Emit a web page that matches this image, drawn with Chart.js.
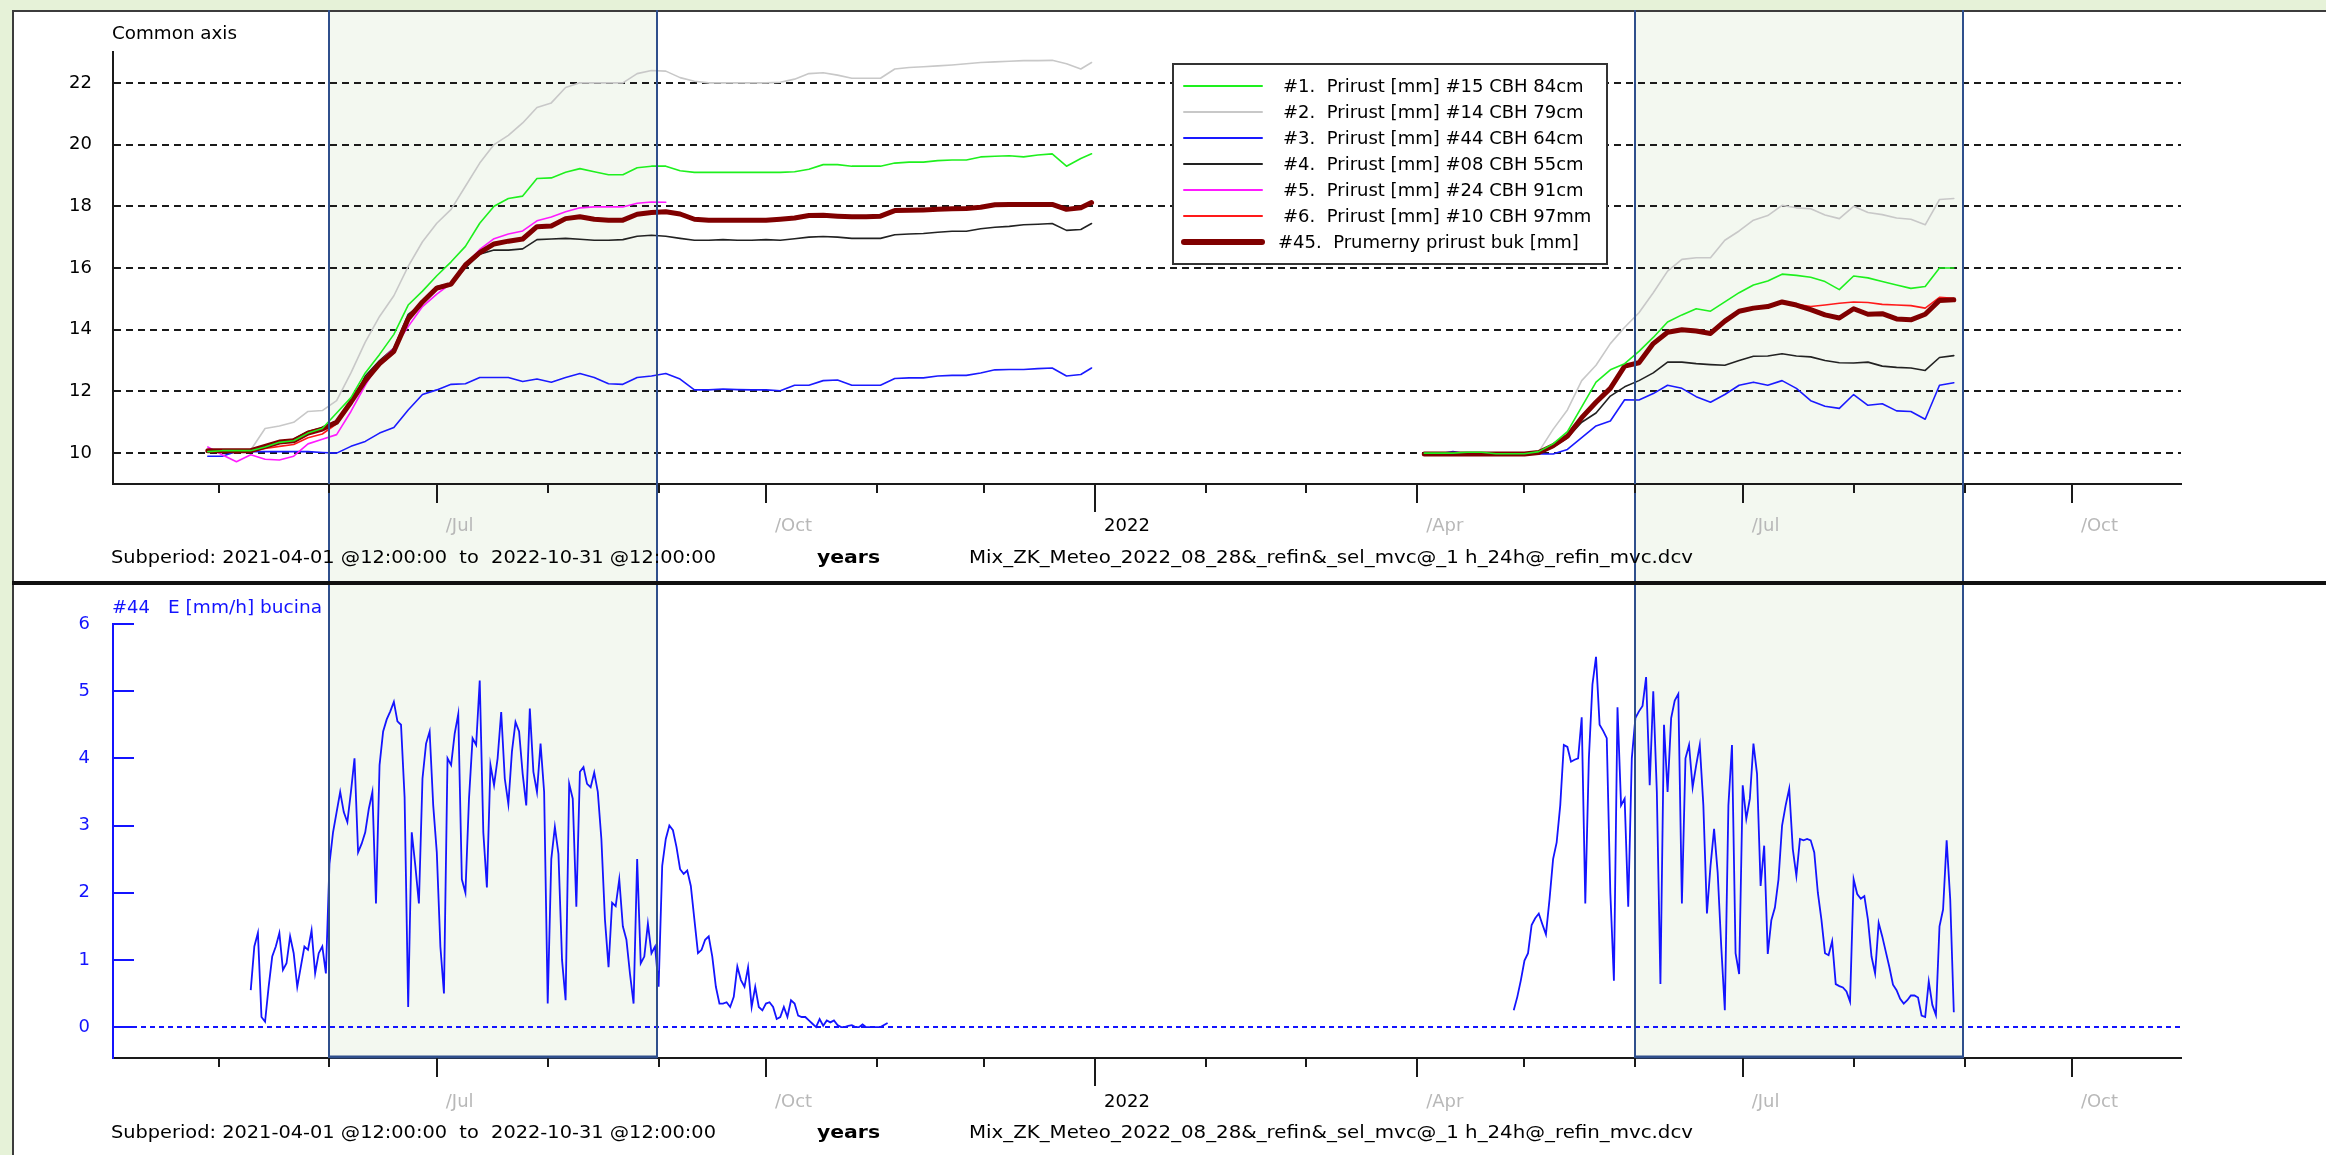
<!DOCTYPE html>
<html>
<head>
<meta charset="utf-8">
<title>Prirust buk / E bucina</title>
<script src="https://cdn.jsdelivr.net/npm/chart.js@4/dist/chart.umd.min.js"></script>
<style>
  html, body { margin: 0; padding: 0; width: 2326px; height: 1155px; overflow: hidden; background: #e6f2d8; }
  #panel { position: absolute; left: 12px; top: 10px; right: 0; bottom: 0; background: #fff;
           border-left: 2px solid #3c3c3c; border-top: 2px solid #3c3c3c; }
  canvas { position: absolute; left: 0; }
  #growth { top: 0; }
  #evap { top: 583px; }
  #divider { position: absolute; left: 12px; right: 0; top: 581px; height: 4px; background: #111; z-index: 5; }
</style>
</head>
<body>
<div id="panel"></div>
<canvas id="growth" width="2326" height="583"></canvas>
<canvas id="evap" width="2326" height="572"></canvas>
<div id="divider"></div>
<script>
// ---- time axis: days since 2021-04-01 00:00 ----
const axisStartDay = 0.5;   // 2021-04-01 12:00
const axisEndDay = 578.5;   // 2022-10-31 12:00
const monthTickDays = [30, 61, 91, 122, 153, 183, 214, 244, 275, 306, 334, 365, 395, 426, 456, 487, 518, 548];
const monthTickLabels = ['', '', '/Jul', '', '', '/Oct', '', '', '2022', '', '', '/Apr', '', '', '/Jul', '', '', '/Oct'];
const summerBands = [[61, 152.5], [426, 517.5]];

// ---- stem increment series (mm), sampled every 4 days ----
const growthDays2021 = [27, 31, 35, 39, 43, 47, 51, 55, 59, 63, 67, 71, 75, 79, 83, 87, 91, 95, 99, 103,
  107, 111, 115, 119, 123, 127, 131, 135, 139, 143, 147, 151, 155, 159, 163, 167, 171, 175, 179, 183,
  187, 191, 195, 199, 203, 207, 211, 215, 219, 223, 227, 231, 235, 239, 243, 247, 251, 255, 259, 263,
  267, 271, 274];
const growthDays2022 = [367, 371, 375, 379, 383, 387, 391, 395, 399, 403, 407, 411, 415, 419, 423, 427,
  431, 435, 439, 443, 447, 451, 455, 459, 463, 467, 471, 475, 479, 483, 487, 491, 495, 499, 503, 507,
  511, 515];

const tree15_2021 = [10.05, 10.08, 10.08, 10.08, 10.2, 10.35, 10.4, 10.65, 10.8, 11.3,
  11.8, 12.6, 13.2, 13.85, 14.8, 15.25, 15.75, 16.2, 16.7, 17.45,
  18.0, 18.25, 18.33, 18.9, 18.92, 19.1, 19.22, 19.12, 19.02, 19.02,
  19.25, 19.3, 19.3, 19.15, 19.1, 19.1, 19.1, 19.1, 19.1, 19.1,
  19.1, 19.12, 19.2, 19.35, 19.35, 19.3, 19.3, 19.3, 19.4, 19.43,
  19.43, 19.48, 19.5, 19.5, 19.6, 19.62, 19.64, 19.6, 19.66, 19.7,
  19.3, 19.55, 19.7];
const tree15_2022 = [10.0, 10.0, 10.0, 10.03, 10.03, 9.98, 9.98, 9.98, 10.05, 10.3,
  10.7, 11.5, 12.3, 12.7, 12.9, 13.3, 13.75, 14.25, 14.48, 14.68,
  14.6, 14.9, 15.2, 15.45, 15.58, 15.8, 15.76, 15.7, 15.56, 15.3,
  15.74, 15.68, 15.56, 15.45, 15.34, 15.4, 16.0, 16.0];

const tree14_2021 = [10.05, 10.05, 10.05, 10.1, 10.8, 10.88, 11.0, 11.35, 11.38, 11.7,
  12.6, 13.6, 14.43, 15.1, 16.05, 16.85, 17.45, 17.9, 18.65, 19.4,
  20.0, 20.3, 20.7, 21.2, 21.35, 21.85, 22.0, 22.0, 22.0, 22.0,
  22.3, 22.4, 22.38, 22.17, 22.05, 22.0, 22.0, 22.0, 22.0, 22.0,
  22.02, 22.12, 22.3, 22.33, 22.25, 22.15, 22.15, 22.15, 22.45, 22.5,
  22.52, 22.55, 22.58, 22.62, 22.66, 22.68, 22.7, 22.72, 22.72, 22.73,
  22.62, 22.45, 22.66];
const tree14_2022 = [9.97, 9.95, 9.97, 9.97, 9.97, 9.97, 9.97, 9.99, 10.05, 10.77,
  11.4, 12.35, 12.85, 13.55, 14.08, 14.55, 15.2, 15.9, 16.28, 16.33,
  16.33, 16.9, 17.2, 17.55, 17.7, 18.03, 17.95, 17.92, 17.72, 17.6,
  18.0, 17.8, 17.73, 17.62, 17.58, 17.4, 18.22, 18.25];

const tree44_2021 = [9.9, 9.9, 10.05, 10.05, 10.05, 10.05, 10.05, 10.05, 10.02, 10.0,
  10.22, 10.38, 10.65, 10.83, 11.4, 11.9, 12.05, 12.23, 12.25, 12.45,
  12.45, 12.45, 12.32, 12.4, 12.3, 12.45, 12.58, 12.45, 12.25, 12.23,
  12.45, 12.5, 12.58, 12.4, 12.05, 12.05, 12.08, 12.06, 12.05, 12.05,
  12.02, 12.2, 12.2, 12.35, 12.37, 12.2, 12.2, 12.2, 12.42, 12.44,
  12.44, 12.5, 12.52, 12.52, 12.6, 12.7, 12.71, 12.71, 12.74, 12.76,
  12.5, 12.55, 12.76];
const tree44_2022 = [9.97, 9.97, 10.05, 9.97, 9.97, 9.97, 9.97, 9.97, 9.97, 9.97,
  10.12, 10.5, 10.88, 11.04, 11.73, 11.72, 11.93, 12.2, 12.1, 11.83,
  11.65, 11.9, 12.2, 12.3, 12.2, 12.35, 12.1, 11.7, 11.52, 11.45,
  11.9, 11.55, 11.6, 11.37, 11.35, 11.1, 12.2, 12.28];

const tree08_2021 = [10.05, 10.05, 10.08, 10.08, 10.2, 10.35, 10.45, 10.7, 10.82, 11.05,
  11.6, 12.5, 13.0, 13.4, 14.5, 14.85, 15.4, 15.5, 16.0, 16.45,
  16.58, 16.58, 16.62, 16.92, 16.94, 16.96, 16.93, 16.9, 16.9, 16.92,
  17.03, 17.06, 17.03, 16.96, 16.9, 16.9, 16.92, 16.9, 16.9, 16.92,
  16.9, 16.95, 17.0, 17.02, 17.0, 16.96, 16.96, 16.96, 17.08, 17.1,
  17.12, 17.16, 17.19, 17.19, 17.27, 17.32, 17.35, 17.4, 17.42, 17.44,
  17.22, 17.25, 17.44];
const tree08_2022 = [9.97, 9.97, 9.97, 9.97, 9.97, 9.97, 9.97, 9.97, 10.0, 10.2,
  10.5, 11.0, 11.3, 11.85, 12.15, 12.35, 12.6, 12.95, 12.95, 12.9,
  12.87, 12.85, 13.0, 13.14, 13.15, 13.22, 13.15, 13.12, 13.0, 12.93,
  12.92, 12.95, 12.82, 12.78, 12.76, 12.68, 13.1, 13.16];

const tree24_2021 = [10.2, 9.95, 9.72, 9.95, 9.8, 9.78, 9.9, 10.3, 10.45, 10.6,
  11.35, 12.2, 12.95, 13.4, 14.1, 14.75, 15.15, 15.5, 16.1, 16.6,
  16.95, 17.1, 17.2, 17.53, 17.65, 17.82, 17.95, 17.98, 17.98, 17.98,
  18.1, 18.14, 18.13];

const tree10_2021 = [10.05, 10.05, 10.02, 10.05, 10.15, 10.22, 10.28, 10.5, 10.62, 10.95,
  11.6, 12.3, 12.85, 13.25, 14.3, 14.85, 15.3, 15.45, 16.05, 16.45,
  16.75, 16.85, 16.92, 17.32, 17.36, 17.58, 17.64, 17.56, 17.55, 17.55,
  17.72, 17.78, 17.8, 17.72, 17.58, 17.56, 17.58, 17.58, 17.58, 17.57,
  17.58, 17.62, 17.7, 17.7, 17.68, 17.66, 17.66, 17.68, 17.85, 17.86,
  17.87, 17.88, 17.9, 17.92, 17.95, 18.02, 18.04, 18.04, 18.04, 18.04,
  17.9, 17.95, 18.1];
const tree10_2022 = [9.97, 9.97, 9.97, 9.97, 9.97, 9.97, 9.97, 9.97, 10.02, 10.22,
  10.5, 11.1, 11.65, 12.05, 12.8, 12.95, 13.55, 13.95, 14.02, 14.0,
  13.92, 14.3, 14.62, 14.72, 14.78, 14.92, 14.82, 14.75, 14.8, 14.86,
  14.9, 14.88, 14.82, 14.8, 14.78, 14.7, 15.05, 15.02];

const beechMean_2021 = [10.08, 10.08, 10.08, 10.08, 10.22, 10.36, 10.4, 10.65, 10.78, 11.0,
  11.65, 12.35, 12.9, 13.3, 14.35, 14.9, 15.35, 15.48, 16.1, 16.5,
  16.78, 16.87, 16.94, 17.34, 17.36, 17.6, 17.66, 17.58, 17.55, 17.55,
  17.74, 17.8, 17.82, 17.75, 17.58, 17.55, 17.55, 17.55, 17.55, 17.55,
  17.58, 17.62, 17.7, 17.71, 17.68, 17.66, 17.66, 17.68, 17.86, 17.87,
  17.88, 17.9, 17.92, 17.93, 17.97, 18.05, 18.06, 18.06, 18.06, 18.06,
  17.9, 17.95, 18.12];
const beechMean_2022 = [9.97, 9.97, 9.97, 9.97, 9.97, 9.97, 9.97, 9.97, 10.02, 10.24,
  10.55, 11.15, 11.65, 12.1, 12.82, 12.93, 13.55, 13.92, 14.0, 13.96,
  13.88, 14.28, 14.6, 14.7, 14.75, 14.9, 14.8, 14.65, 14.48, 14.38,
  14.68, 14.5, 14.52, 14.35, 14.32, 14.5, 14.95, 14.97];

const seriesLabels = [
  '#1.  Prirust [mm] #15 CBH 84cm',
  '#2.  Prirust [mm] #14 CBH 79cm',
  '#3.  Prirust [mm] #44 CBH 64cm',
  '#4.  Prirust [mm] #08 CBH 55cm',
  '#5.  Prirust [mm] #24 CBH 91cm',
  '#6.  Prirust [mm] #10 CBH 97mm',
  '#45.  Prumerny prirust buk [mm]'
];
const commonAxisTicks = [10, 12, 14, 16, 18, 20, 22];

// ---- E [mm/h] bucina, daily values ----
const etFirstDay2021 = 39;
const etValues2021 = [0.55, 1.2, 1.4, 0.15, 0.08, 0.6, 1.05, 1.2, 1.4, 0.85,
  0.95, 1.35, 1.1, 0.6, 0.9, 1.2, 1.15, 1.44, 0.8, 1.1,
  1.2, 0.8, 2.43, 2.9, 3.2, 3.5, 3.2, 3.05, 3.5, 4.0,
  2.6, 2.73, 2.9, 3.25, 3.5, 1.84, 3.9, 4.4, 4.58, 4.7,
  4.84, 4.55, 4.5, 3.42, 0.3, 2.9, 2.4, 1.84, 3.7, 4.22,
  4.4, 3.3, 2.6, 1.2, 0.5, 4.0, 3.9, 4.37, 4.66, 2.2,
  2.0, 3.4, 4.3, 4.2, 5.16, 2.9, 2.08, 3.9, 3.6, 4.0,
  4.69, 3.7, 3.32, 4.1, 4.54, 4.4, 3.77, 3.3, 4.74, 3.8,
  3.5, 4.22, 3.5, 0.35, 2.5, 2.98, 2.58, 1.0, 0.4, 3.62,
  3.4, 1.79, 3.8, 3.87, 3.62, 3.57, 3.79, 3.5, 2.8, 1.6,
  0.89, 1.85, 1.8, 2.2, 1.5, 1.3, 0.79, 0.35, 2.5, 0.95,
  1.05, 1.54, 1.1, 1.2, 0.6, 2.4, 2.8, 3.0, 2.93, 2.68,
  2.35, 2.28, 2.33, 2.1, 1.6, 1.1, 1.15, 1.3, 1.35, 1.05,
  0.6, 0.35, 0.35, 0.37, 0.3, 0.45, 0.9, 0.7, 0.6, 0.89,
  0.3, 0.6, 0.3, 0.25, 0.35, 0.37, 0.3, 0.12, 0.15, 0.3,
  0.15, 0.4, 0.35, 0.17, 0.15, 0.15, 0.1, 0.05, 0.0, 0.12,
  0.02, 0.1, 0.07, 0.1, 0.03, 0.0, 0.0, 0.02, 0.03, 0.0,
  0.0, 0.04, 0.0, 0.0, 0.0, 0.0, 0.0, 0.03, 0.06];
const etFirstDay2022 = 392;
const etValues2022 = [0.25, 0.45, 0.7, 0.99, 1.1, 1.52, 1.62, 1.69, 1.53, 1.38,
  1.9, 2.5, 2.75, 3.3, 4.2, 4.17, 3.95, 3.98, 4.0, 4.61,
  1.84, 4.0, 5.1, 5.51, 4.5, 4.41, 4.3, 2.0, 0.69, 4.76,
  3.3, 3.4, 1.79, 4.0, 4.6, 4.7, 4.78, 5.21, 3.6, 5.0,
  3.5, 0.64, 4.5, 3.5, 4.6, 4.86, 4.96, 1.84, 4.0, 4.2,
  3.57, 3.9, 4.2, 3.3, 1.69, 2.4, 2.95, 2.3, 1.2, 0.25,
  3.3, 4.2, 1.1, 0.79, 3.6, 3.1, 3.4, 4.22, 3.77, 2.1,
  2.7, 1.09, 1.59, 1.78, 2.2, 3.0, 3.3, 3.55, 2.65, 2.25,
  2.8, 2.78, 2.8, 2.78, 2.6, 2.0, 1.6, 1.1, 1.07, 1.28,
  0.64, 0.61, 0.59, 0.53, 0.38, 2.2, 1.98, 1.91, 1.95, 1.6,
  1.05, 0.8, 1.55, 1.35, 1.12, 0.89, 0.63, 0.55, 0.42, 0.35,
  0.4, 0.47, 0.47, 0.44, 0.17, 0.15, 0.68, 0.33, 0.18, 1.5,
  1.75, 2.78, 1.9, 0.22];
const etAxisTicks = [0, 1, 2, 3, 4, 5, 6];

// ---- shared styling ----
const FONT = "'DejaVu Sans', 'Noto Sans', sans-serif";
Chart.defaults.font.family = FONT;
Chart.defaults.font.size = 18;
Chart.defaults.color = '#000';

const ET_BLUE = '#1414ff';
const BAND_FILL = '#f3f8f0';
const BAND_EDGE = '#2f4f8c';

function toPoints(days, values) {
  return days.map((d, i) => ({ x: d, y: values[i] }));
}
function joinSeasons(a, b) {
  if (!b.length) return a;
  const gapX = (a[a.length - 1].x + b[0].x) / 2;
  return a.concat([{ x: gapX, y: null }], b);
}
const etDays2021 = etValues2021.map((_, i) => etFirstDay2021 + i);
const etDays2022 = etValues2022.map((_, i) => etFirstDay2022 + i);

function tickLength(label) {
  if (label === '') return 9;
  return /^\d/.test(label) ? 28 : 19;
}

function xScaleOptions(labelPadding) {
  return {
    type: 'linear',
    min: axisStartDay,
    max: axisEndDay,
    afterBuildTicks: s => { s.ticks = monthTickDays.map(v => ({ value: v })); },
    afterFit: s => { s.height = 60; },
    grid: { display: false, drawTicks: false },
    border: { display: true, color: '#1a1a1a', width: 2 },
    ticks: {
      autoSkip: false, maxRotation: 0, minRotation: 0,
      align: 'start', labelOffset: 9, padding: labelPadding,
      color: c => /^\d/.test(monthTickLabels[c.index] || '') ? '#000' : '#b8b8b8',
      callback: (v, i) => monthTickLabels[i]
    }
  };
}

// Shaded summer periods spanning the whole panel height
function bandsPlugin(fillTop, edgeTop, bottom, bottomEdge) {
  return {
    id: 'summerBands',
    beforeDraw(chart) {
      const { ctx } = chart;
      const x = chart.scales.x;
      ctx.save();
      ctx.fillStyle = BAND_FILL;
      summerBands.forEach(([a, b]) => {
        const x1 = x.getPixelForValue(a), x2 = x.getPixelForValue(b);
        ctx.fillRect(x1, fillTop, x2 - x1, bottom - fillTop);
      });
      ctx.restore();
    },
    afterDraw(chart) {
      const { ctx } = chart;
      const x = chart.scales.x;
      ctx.save();
      ctx.strokeStyle = BAND_EDGE;
      ctx.lineWidth = 2;
      summerBands.forEach(([a, b]) => {
        const x1 = Math.round(x.getPixelForValue(a)), x2 = Math.round(x.getPixelForValue(b));
        ctx.beginPath();
        ctx.moveTo(x1, edgeTop); ctx.lineTo(x1, bottom);
        ctx.moveTo(x2, edgeTop); ctx.lineTo(x2, bottom);
        ctx.stroke();
        if (bottomEdge) {
          ctx.lineWidth = 3;
          ctx.beginPath();
          ctx.moveTo(x1, bottom - 1); ctx.lineTo(x2, bottom - 1);
          ctx.stroke();
          ctx.lineWidth = 2;
        }
      });
      ctx.restore();
    }
  };
}

// Monthly / quarterly / yearly tick marks below the time axis
const timeTicksPlugin = {
  id: 'timeTicks',
  afterDraw(chart) {
    const { ctx } = chart;
    const x = chart.scales.x;
    const y0 = chart.chartArea.bottom;
    ctx.save();
    ctx.strokeStyle = '#1a1a1a';
    ctx.lineWidth = 2;
    x.ticks.forEach((t, i) => {
      const px = Math.round(x.getPixelForValue(t.value)) + 0.0;
      ctx.beginPath();
      ctx.moveTo(px, y0);
      ctx.lineTo(px, y0 + tickLength(monthTickLabels[i]));
      ctx.stroke();
    });
    ctx.restore();
  }
};

function drawText(ctx, text, x, y, opts = {}) {
  ctx.save();
  ctx.font = (opts.bold ? 'bold ' : '') + (opts.size || 18) + 'px ' + FONT;
  ctx.fillStyle = opts.color || '#000';
  ctx.textBaseline = 'middle';
  ctx.textAlign = 'left';
  if (opts.width) {
    const w = ctx.measureText(text).width;
    ctx.translate(x, y);
    ctx.scale(opts.width / w, 1);
    ctx.fillText(text, 0, 0);
  } else {
    ctx.fillText(text, x, y);
  }
  ctx.restore();
}

function footerPlugin(y) {
  return {
    id: 'footer',
    afterDraw(chart) {
      const { ctx } = chart;
      drawText(ctx, 'Subperiod: 2021-04-01 @12:00:00  to  2022-10-31 @12:00:00', 111, y, { width: 605 });
      drawText(ctx, 'years', 817, y, { bold: true, width: 63 });
      drawText(ctx, 'Mix_ZK_Meteo_2022_08_28&_refin&_sel_mvc@_1 h_24h@_refin_mvc.dcv', 969, y, { width: 724 });
    }
  };
}

// Boxed legend inside the growth plot
const growthLegendPlugin = {
  id: 'growthLegend',
  afterDraw(chart) {
    const { ctx } = chart;
    const box = { x: 1173, y: 64, w: 434, h: 200 };
    ctx.save();
    ctx.fillStyle = '#fff';
    ctx.fillRect(box.x, box.y, box.w, box.h);
    ctx.strokeStyle = '#333';
    ctx.lineWidth = 2;
    ctx.strokeRect(box.x, box.y, box.w, box.h);
    chart.data.datasets.forEach((ds, i) => {
      const cy = 86 + i * 26;
      ctx.strokeStyle = ds.borderColor;
      ctx.lineWidth = ds.legendWidth;
      ctx.lineCap = 'round';
      ctx.beginPath();
      ctx.moveTo(1184, cy);
      ctx.lineTo(1262, cy);
      ctx.stroke();
      drawText(ctx, ds.label, i === 6 ? 1278 : 1283, cy + 1, {});
    });
    ctx.restore();
    drawText(ctx, 'Common axis', 112, 34, { width: 125 });
  }
};

// ---- growth chart ----
const growthColors = ['#1ef01e', '#c8c8c8', '#1a1aff', '#222222', '#ff1aff', '#ff1a1a', '#800000'];
const growthData = [
  joinSeasons(toPoints(growthDays2021, tree15_2021), toPoints(growthDays2022, tree15_2022)),
  joinSeasons(toPoints(growthDays2021, tree14_2021), toPoints(growthDays2022, tree14_2022)),
  joinSeasons(toPoints(growthDays2021, tree44_2021), toPoints(growthDays2022, tree44_2022)),
  joinSeasons(toPoints(growthDays2021, tree08_2021), toPoints(growthDays2022, tree08_2022)),
  toPoints(growthDays2021.slice(0, tree24_2021.length), tree24_2021),
  joinSeasons(toPoints(growthDays2021, tree10_2021), toPoints(growthDays2022, tree10_2022)),
  joinSeasons(toPoints(growthDays2021, beechMean_2021), toPoints(growthDays2022, beechMean_2022))
];
const drawOrder = [0, 6, 5, 4, 3, 2, 1];

new Chart(document.getElementById('growth'), {
  type: 'line',
  data: {
    datasets: growthData.map((pts, i) => ({
      label: seriesLabels[i],
      data: pts,
      borderColor: growthColors[i],
      borderWidth: i === 6 ? 5 : 1.6,
      legendWidth: i === 6 ? 6 : 2,
      borderJoinStyle: 'round',
      borderCapStyle: 'round',
      order: drawOrder[i],
      pointRadius: 0,
      tension: 0,
      spanGaps: false
    }))
  },
  options: {
    responsive: false,
    animation: false,
    events: [],
    layout: { padding: { left: 0, top: 52, right: 145, bottom: 39 } },
    plugins: { legend: { display: false }, tooltip: { enabled: false } },
    scales: {
      x: xScaleOptions(32),
      y: {
        min: 9, max: 23,
        afterBuildTicks: s => { s.ticks = commonAxisTicks.map(v => ({ value: v })); },
        afterFit: s => { s.width = 113; },
        grid: { color: '#1a1a1a', lineWidth: 2, drawTicks: false },
        border: { display: true, color: '#1a1a1a', width: 2, dash: [7, 5] },
        ticks: { padding: 21, color: '#000' }
      }
    }
  },
  plugins: [bandsPlugin(12, 10, 583, false), timeTicksPlugin, growthLegendPlugin, footerPlugin(558)]
});

// ---- evaporation chart ----
const etTicksPlugin = {
  id: 'etTicks',
  afterDraw(chart) {
    const { ctx } = chart;
    const y = chart.scales.y;
    const left = chart.chartArea.left;
    ctx.save();
    ctx.strokeStyle = ET_BLUE;
    ctx.lineWidth = 2;
    etAxisTicks.forEach(v => {
      const py = Math.round(y.getPixelForValue(v));
      ctx.beginPath();
      ctx.moveTo(left, py);
      ctx.lineTo(left + 21, py);
      ctx.stroke();
    });
    ctx.restore();
    drawText(ctx, '#44', 112, 25, { color: ET_BLUE, width: 38 });
    drawText(ctx, 'E [mm/h] bucina', 168, 25, { color: ET_BLUE, width: 154 });
  }
};

new Chart(document.getElementById('evap'), {
  type: 'line',
  data: {
    datasets: [{
      label: '#44  E [mm/h] bucina',
      data: joinSeasons(toPoints(etDays2021, etValues2021), toPoints(etDays2022, etValues2022)),
      borderColor: ET_BLUE,
      borderWidth: 1.8,
      pointRadius: 0,
      tension: 0,
      spanGaps: false
    }]
  },
  options: {
    responsive: false,
    animation: false,
    events: [],
    layout: { padding: { left: 0, top: 41, right: 145, bottom: 37 } },
    plugins: { legend: { display: false }, tooltip: { enabled: false } },
    scales: {
      x: xScaleOptions(34),
      y: {
        min: -0.46, max: 6,
        afterBuildTicks: s => { s.ticks = etAxisTicks.map(v => ({ value: v })); },
        afterFit: s => { s.width = 113; },
        grid: {
          color: c => (c.tick && c.tick.value === 0) ? ET_BLUE : 'rgba(0,0,0,0)',
          lineWidth: 2, drawTicks: false
        },
        border: { display: true, color: ET_BLUE, width: 2, dash: [5, 4] },
        ticks: { padding: 23, color: ET_BLUE }
      }
    }
  },
  plugins: [bandsPlugin(0, 0, 475, true), timeTicksPlugin, etTicksPlugin, footerPlugin(550)]
});
</script>
</body>
</html>
